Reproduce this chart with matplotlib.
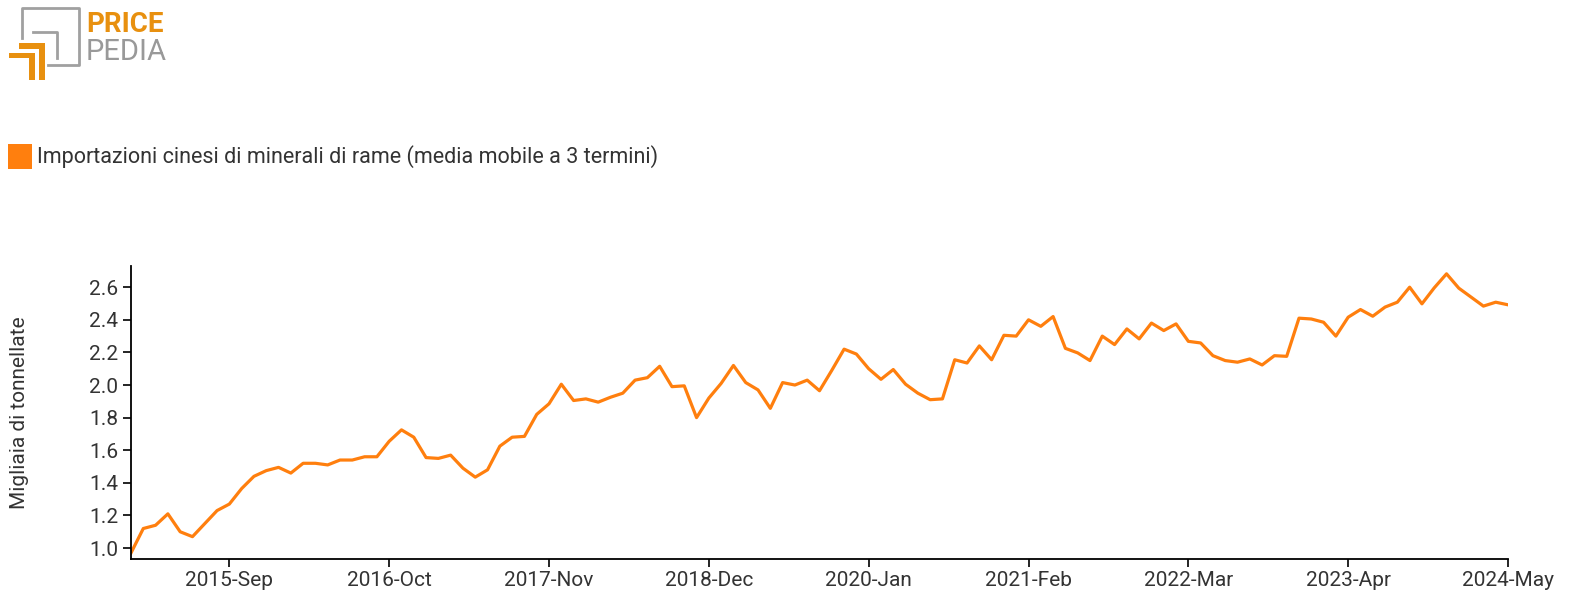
import numpy as np
import pandas as pd
import matplotlib
matplotlib.use("Agg")
import matplotlib.pyplot as plt
from matplotlib.patches import Rectangle

plt.rcParams['font.family'] = ['Roboto', 'DejaVu Sans']

# importazioni cinesi di minerali di rame, media mobile a 3 termini (migliaia di tonnellate)
start_month = "2015-01"
values = [
    0.97, 1.12, 1.14, 1.21, 1.10, 1.07, 1.15, 1.23, 1.27, 1.365,
    1.44, 1.475, 1.495, 1.46, 1.52, 1.52, 1.51, 1.54, 1.54, 1.56,
    1.56, 1.655, 1.725, 1.68, 1.555, 1.55, 1.57, 1.49, 1.435, 1.48,
    1.625, 1.68, 1.685, 1.82, 1.885, 2.005, 1.905, 1.915, 1.895, 1.925,
    1.95, 2.03, 2.045, 2.115, 1.99, 1.995, 1.80, 1.92, 2.01, 2.12,
    2.015, 1.97, 1.857, 2.015, 2.00, 2.03, 1.965, 2.09, 2.22, 2.19,
    2.10, 2.035, 2.095, 2.005, 1.95, 1.91, 1.915, 2.155, 2.135, 2.24,
    2.155, 2.305, 2.30, 2.40, 2.36, 2.42, 2.225, 2.197, 2.15, 2.30,
    2.248, 2.344, 2.283, 2.38, 2.334, 2.375, 2.268, 2.258, 2.18, 2.15,
    2.14, 2.16, 2.123, 2.18, 2.176, 2.41, 2.405, 2.385, 2.30, 2.416,
    2.463, 2.422, 2.478, 2.508, 2.60, 2.498, 2.596, 2.682, 2.594, 2.539,
    2.484, 2.508, 2.492,
]
months = pd.date_range(start_month, periods=len(values), freq="MS")
tick_idx = [8, 21, 34, 47, 60, 73, 86, 99, 112]
tick_labels = [months[i].strftime("%Y-%b") for i in tick_idx]
y_ticks = [1.0, 1.2, 1.4, 1.6, 1.8, 2.0, 2.2, 2.4, 2.6]

series_name = "Importazioni cinesi di minerali di rame (media mobile a 3 termini)"
orange = "#ff7f0e"
txt = "#333333"

W, H = 1571, 608
fig = plt.figure(figsize=(W / 100, H / 100), dpi=100)
ax = fig.add_axes([131 / W, 1 - 559 / H, (1508 - 131) / W, (559 - 266) / H])

x = np.arange(len(values))
ax.plot(x, values, color=orange, lw=2.3)

ax.set_xlim(0, len(values) - 1)
ax.set_ylim(0.933, 2.73)
ax.set_xticks(tick_idx)
ax.set_xticklabels(tick_labels)
ax.set_yticks(y_ticks)
ax.set_yticklabels([f"{v:.1f}" for v in y_ticks])
for s in ["top", "right"]:
    ax.spines[s].set_visible(False)
for s in ["left", "bottom"]:
    ax.spines[s].set_linewidth(1.3)
ax.tick_params(axis="both", length=6, width=1.2, labelsize=15, labelcolor=txt, pad=3)
ax.set_ylabel("Migliaia di tonnellate", fontsize=15, color=txt)
ax.yaxis.set_label_coords((29 - 131) / (1508 - 131), 0.5)

# overlay in pixel coordinates for logo and legend
ov = fig.add_axes([0, 0, 1, 1])
ov.set_xlim(0, W)
ov.set_ylim(H, 0)
ov.axis("off")

gray = "#a0a0a0"
logo_or = "#e8900f"
ov.plot([22, 22, 79, 79, 48], [38, 8, 8, 65, 65], color=gray, lw=2)
ov.plot([33, 57, 57], [32, 32, 58], color=gray, lw=2)
ov.add_patch(Rectangle((19, 43), 26, 6, color=logo_or, lw=0))
ov.add_patch(Rectangle((39, 43), 6, 37, color=logo_or, lw=0))
ov.add_patch(Rectangle((9, 53), 26, 5, color=logo_or, lw=0))
ov.add_patch(Rectangle((29, 53), 6, 27, color=logo_or, lw=0))
ov.text(86, 24, "PRICE", color=logo_or, fontsize=20, fontweight="bold", va="center", ha="left")
ov.text(86, 52, "PEDIA", color="#999999", fontsize=21, va="center", ha="left")

# legend
ov.add_patch(Rectangle((8, 144), 24, 25, color=orange, lw=0))
ov.text(37, 157, series_name, fontsize=15.5, color=txt, va="center", ha="left")

fig.savefig("out.png", dpi=100)
